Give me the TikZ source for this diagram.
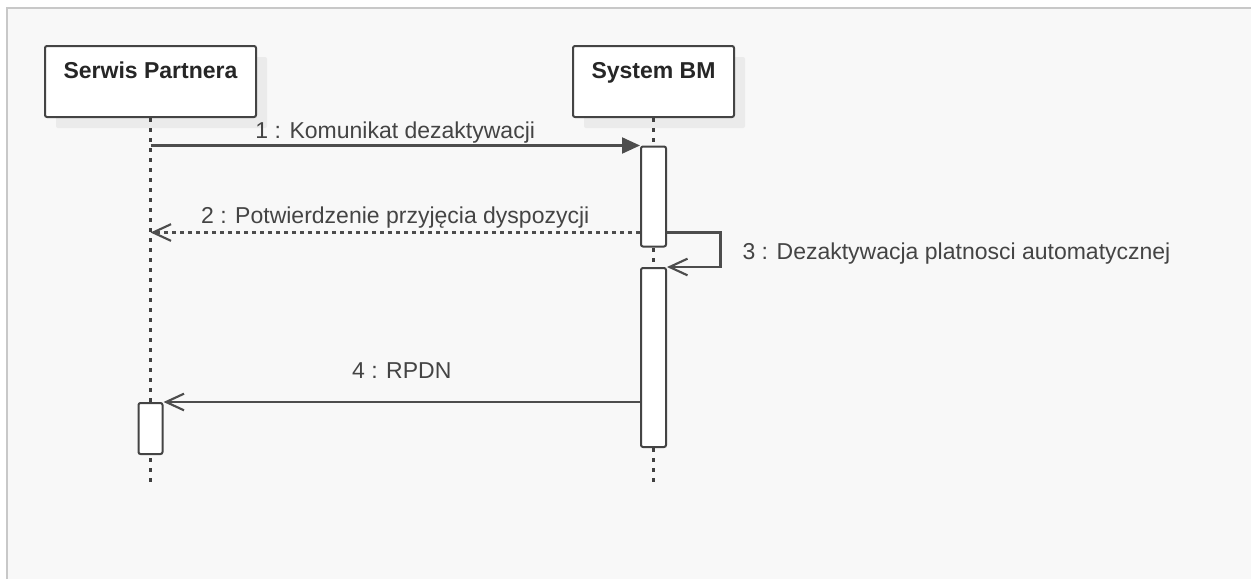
\documentclass[tikz,border=0pt]{standalone}
\usepackage{fontspec}
\setmainfont{Liberation Sans}
\usetikzlibrary{arrows.meta, positioning, shadows}
\definecolor{frame}{HTML}{C8C8C8}
\definecolor{paper}{HTML}{F8F8F8}
\definecolor{ink}{HTML}{444444}
\definecolor{wire}{HTML}{4D4D4D}
\definecolor{shade}{HTML}{EBEBEB}

\begin{document}
\begin{tikzpicture}[x=0.75pt, y=-0.75pt, font=\fontsize{17.25}{20}\selectfont,
   actor/.style={rectangle, rounded corners=1.5pt, draw=ink, line width=1.5pt,
     fill=white, minimum height=53.25pt, text height=12.75pt, text depth=17.5pt,
     font=\fontsize{17.25}{20}\selectfont\bfseries, text=black!85, inner sep=0pt,
     drop shadow={shadow xshift=8.25pt, shadow yshift=-8.25pt, fill=shade,
       opacity=1}},
   bar/.style={rectangle, rounded corners=1.5pt, draw=ink, line width=1.5pt,
     fill=white, minimum width=18.75pt, inner sep=0pt},
   life/.style={draw=black!75, line width=1.8pt, dash pattern=on 3pt off 4.5pt},
   msg/.style={draw=wire, line width=1.6pt},
   ret/.style={msg, dash pattern=on 3pt off 3pt},
   open/.style={-{Straight Barb[length=13.5pt, width=12.5pt]}},
   lbl/.style={text=ink, inner sep=0pt, text height=12.75pt, text depth=3.75pt}]
 \useasboundingbox (0,0) rectangle (1251,579);
 % canvas
 \fill[white] (0,0) rectangle (1251,579);
 \fill[paper] (7,8) rectangle (1251,579);
 \draw[frame, line width=1.5pt] (7,579) -- (7,8) -- (1251,8);

 % participants and lifelines
 \node[actor, minimum width=158.25pt] (partner) at (150.5,81.5) {Serwis Partnera};
 \node[actor, minimum width=120.75pt] (system) at (653.5,81.5) {System BM};
 \coordinate (end) at (0,488);
 \draw[life] (partner.south) -- (partner.south |- end);
 \draw[life] (system.south) -- (system.south |- end);

 % activations
 \node[bar, minimum height=75pt] (b1) at (653.5,196.5) {};
 \node[bar, minimum height=134.25pt] (b2) at (653.5,357.5) {};
 \node[bar, minimum width=18pt, minimum height=38.25pt] (b3) at (150.5,428.5) {};

 % messages
 \draw[msg, -{Triangle[length=13.5pt, width=12pt]}] (partner |- b1.north) -- (b1.north west)
   node[lbl, midway, above=1pt] {1 : Komunikat dezaktywacji};
 \coordinate (m2) at ([yshift=11.25pt]b1.south west);
 \draw[ret, open] (m2) -- (partner |- m2)
   node[lbl, midway, above=2pt] {2 : Potwierdzenie przyjęcia dyspozycji};
 \draw[msg, open] (b1.east |- m2) -- ++(53.5,0) |- (b2.north east)
   node[lbl, pos=0.25, right=15.75pt, yshift=-2.5pt] {3 : Dezaktywacja platnosci automatycznej};
 \draw[msg, open] (b2.west |- b3.north) -- (b3.north east)
   node[lbl, midway, above=13.3pt] {4 : RPDN};
\end{tikzpicture}
\end{document}
